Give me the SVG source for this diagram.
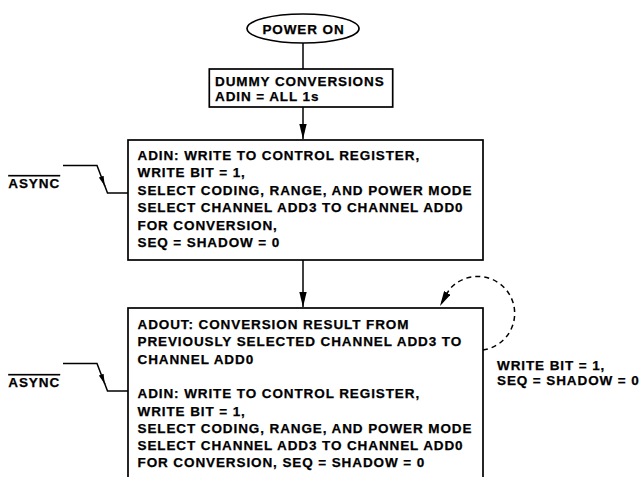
<svg xmlns="http://www.w3.org/2000/svg" width="642" height="477" viewBox="0 0 642 477">
<style>
text{font-family:"Liberation Sans",Arial,sans-serif;font-weight:bold;font-size:13.5px;letter-spacing:0.9px;fill:#000;stroke:#000;stroke-width:0.25}
.box{fill:#fff;stroke:#000;stroke-width:1.7}
.ln{fill:none;stroke:#000;stroke-width:1.5}
.dash{fill:none;stroke:#000;stroke-width:1.5;stroke-dasharray:5 4}
.ov{text-decoration:overline}
</style>
<defs>
<marker id="arr" viewBox="0 0 15 8" refX="15" refY="4" markerWidth="15" markerHeight="8" markerUnits="userSpaceOnUse" orient="auto">
<path d="M0,0.3 L15,4 L0,7.7 Z" fill="#000"/>
</marker>
<marker id="arrs" viewBox="0 0 10 5" refX="10" refY="2.5" markerWidth="10" markerHeight="5" markerUnits="userSpaceOnUse" orient="auto">
<path d="M0,0 L10,2.5 L0,5 Z" fill="#000"/>
</marker>
</defs>
<rect width="642" height="477" fill="#fff"/>
<g id="connectors">
<path class="ln" d="M303,43 V69"/>
<path class="ln" d="M303,107 V139" marker-end="url(#arr)"/>
<path class="ln" d="M303,260 V307" marker-end="url(#arr)"/>
<path class="ln" d="M63,165.5 H97 L104.8,186" marker-end="url(#arrs)"/>
<path class="ln" d="M104.5,185 L107.5,193 H128"/>
<path class="ln" d="M63,363.5 H97 L104.8,384" marker-end="url(#arrs)"/>
<path class="ln" d="M104.5,383 L107.5,391 H128"/>
<path class="dash" d="M483,350 A37,37 0 1 0 449,290 L440,306" marker-end="url(#arr)"/>
</g>
<g id="power-on">
<ellipse class="box" cx="303" cy="28.5" rx="56" ry="14.5"/>
<text x="303.5" y="33.5" text-anchor="middle">POWER ON</text>
</g>
<g id="dummy">
<rect class="box" x="209.3" y="69" width="183.4" height="38"/>
<text x="215" y="85.5">DUMMY CONVERSIONS</text>
<text x="215" y="100.5">ADIN = ALL 1s</text>
</g>
<g id="box1">
<rect class="box" x="128" y="140" width="355" height="120"/>
<text x="137.5" y="160">ADIN: WRITE TO CONTROL REGISTER,</text>
<text x="137.5" y="177.4">WRITE BIT = 1,</text>
<text x="137.5" y="194.8">SELECT CODING, RANGE, AND POWER MODE</text>
<text x="137.5" y="212.2">SELECT CHANNEL ADD3 TO CHANNEL ADD0</text>
<text x="137.5" y="229.6">FOR CONVERSION,</text>
<text x="137.5" y="247">SEQ = SHADOW = 0</text>
</g>
<g id="box2">
<rect class="box" x="128" y="308" width="355" height="200"/>
<text x="137.5" y="329">ADOUT: CONVERSION RESULT FROM</text>
<text x="137.5" y="346.3">PREVIOUSLY SELECTED CHANNEL ADD3 TO</text>
<text x="137.5" y="363.6">CHANNEL ADD0</text>
<text x="137.5" y="398.2">ADIN: WRITE TO CONTROL REGISTER,</text>
<text x="137.5" y="415.5">WRITE BIT = 1,</text>
<text x="137.5" y="432.8">SELECT CODING, RANGE, AND POWER MODE</text>
<text x="137.5" y="450.1">SELECT CHANNEL ADD3 TO CHANNEL ADD0</text>
<text x="137.5" y="467.4">FOR CONVERSION, SEQ = SHADOW = 0</text>
</g>
<g id="async1">
<text class="ov" x="8.3" y="188">ASYNC</text>
</g>
<g id="async2">
<text class="ov" x="8.3" y="387">ASYNC</text>
</g>
<g id="loop-label">
<text x="497" y="370">WRITE BIT = 1,</text>
<text x="497" y="385">SEQ = SHADOW = 0</text>
</g>
</svg>
